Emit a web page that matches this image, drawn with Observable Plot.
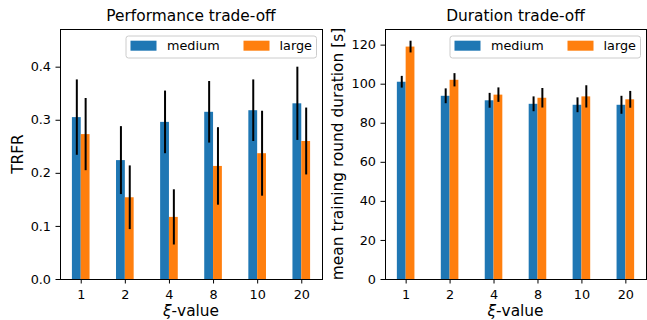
<!DOCTYPE html>
<html>
<head>
<meta charset="utf-8">
<script src="https://cdn.jsdelivr.net/npm/d3@7"></script>
<script src="https://cdn.jsdelivr.net/npm/@observablehq/plot@0.6"></script>
<style>
  html, body { margin: 0; padding: 0; background: #fff; }
  #wrap { position: relative; width: 647px; height: 320px; overflow: hidden; }
  #wrap > div { position: absolute; top: 0; }
  svg { font-family: "DejaVu Sans", sans-serif; }
</style>
</head>
<body>
<div id="wrap"><div id="left"></div><div id="right"></div></div>
<script>
// ---- data ----
const categories = ["1", "2", "4", "8", "10", "20"];
const seriesNames = ["medium", "large"];
const trfrMedium    = [0.305, 0.224, 0.296, 0.315, 0.318, 0.331];
const trfrMediumErr = [0.071, 0.064, 0.059, 0.058, 0.058, 0.069];
const trfrLarge     = [0.273, 0.154, 0.117, 0.213, 0.237, 0.260];
const trfrLargeErr  = [0.068, 0.060, 0.052, 0.073, 0.080, 0.063];
const durMedium     = [101.0, 93.8, 91.5, 89.7, 89.2, 89.2];
const durMediumErr  = [3.0, 3.8, 3.8, 3.8, 3.8, 4.6];
const durLarge      = [119.0, 102.0, 94.4, 92.8, 93.5, 92.0];
const durLargeErr   = [3.0, 3.4, 3.7, 5.0, 5.7, 4.3];
const trfrTicks = [0, 0.1, 0.2, 0.3, 0.4];
const durTicks = [0, 20, 40, 60, 80, 100, 120];
const colors = {medium: "#1f77b4", large: "#ff7f0e"};

const BW = 0.2;

function rows(med, medErr, lrg, lrgErr) {
  const out = [];
  categories.forEach((c, i) => {
    out.push({i, s: "medium", v: med[i], e: medErr[i], x1: i - BW, x2: i, xc: i - BW / 2});
    out.push({i, s: "large", v: lrg[i], e: lrgErr[i], x1: i, x2: i + BW, xc: i + BW / 2});
  });
  return out;
}

function panel(opts) {
  const data = rows(...opts.series);
  const svg = Plot.plot({
    width: opts.width, height: 320,
    marginLeft: opts.ml, marginRight: opts.mr, marginTop: 29, marginBottom: 41,
    style: {fontFamily: "DejaVu Sans", fontSize: "12.8px", color: "#000", background: "transparent", overflow: "visible"},
    x: {type: "linear", domain: [-0.47, 5.47]},
    y: {domain: opts.ydomain},
    color: {domain: seriesNames, range: [colors.medium, colors.large]},
    marks: [
      Plot.rectY(data, {x1: "x1", x2: "x2", y: "v", fill: "s"}),
      Plot.ruleX(data, {x: "xc", y1: d => d.v - d.e, y2: d => d.v + d.e, stroke: "#000", strokeWidth: 2}),
      Plot.axisX({ticks: categories.map((c, i) => i), tickFormat: i => categories[i], tickSize: 4.5, tickPadding: 6, label: null, stroke: "#000"}),
      Plot.axisY({ticks: opts.yticks, tickFormat: opts.yfmt, tickSize: 4.5, tickPadding: 5, label: null, stroke: "#000"}),
      Plot.frame({stroke: "#000", strokeWidth: 1})
    ]
  });
  const s = d3.select(svg);
  const W = opts.width, fl = opts.ml, fr = W - opts.mr;
  const cx = (fl + fr) / 2;
  // title
  s.append("text").attr("x", cx).attr("y", 21).attr("text-anchor", "middle")
    .attr("font-size", "15.4px").attr("fill", "#000").text(opts.title);
  // x label
  const xl = s.append("text").attr("x", cx).attr("y", 315.5).attr("text-anchor", "middle")
    .attr("font-size", "15.4px").attr("fill", "#000");
  xl.append("tspan").attr("font-style", "italic").text("\u03BE");
  xl.append("tspan").text("-value");
  // y label
  s.append("text").attr("transform", `translate(${opts.ylabelX},154) rotate(-90)`)
    .attr("text-anchor", "middle").attr("dy", "0.35em")
    .attr("font-size", "15.4px").attr("fill", "#000").text(opts.ylabel);
  // legend
  const bx = fr - 5.5 - 190.5, by = 36;
  const g = s.append("g").attr("text-anchor", "start");
  g.append("rect").attr("x", bx).attr("y", by).attr("width", 190.5).attr("height", 22)
    .attr("rx", 2.5).attr("fill", "#fff").attr("fill-opacity", 0.8)
    .attr("stroke", "#cccccc").attr("stroke-width", 1);
  const items = [{n: "medium", px: 4.5, tx: 41}, {n: "large", px: 117.5, tx: 153.5}];
  items.forEach(it => {
    g.append("rect").attr("x", bx + it.px).attr("y", 40.7).attr("width", 26).attr("height", 10)
      .attr("fill", colors[it.n]);
    g.append("text").attr("x", bx + it.tx).attr("y", 46).attr("dy", "0.35em")
      .attr("text-anchor", "start")
      .attr("font-size", "12.8px").attr("fill", "#000").text(it.n);
  });
  return svg;
}

const left = panel({
  width: 330, ml: 60, mr: 8,
  series: [trfrMedium, trfrMediumErr, trfrLarge, trfrLargeErr],
  ydomain: [0, 0.471], yticks: trfrTicks, yfmt: d3.format(".1f"),
  title: "Performance trade-off", ylabel: "TRFR", ylabelX: 18
});
const right = panel({
  width: 317, ml: 55, mr: 1,
  series: [durMedium, durMediumErr, durLarge, durLargeErr],
  ydomain: [0, 128], yticks: durTicks, yfmt: d3.format("d"),
  title: "Duration trade-off", ylabel: "mean training round duration [s]", ylabelX: 8
});
document.getElementById("left").appendChild(left);
const rd = document.getElementById("right");
rd.style.left = "330px";
rd.appendChild(right);
</script>
</body>
</html>
